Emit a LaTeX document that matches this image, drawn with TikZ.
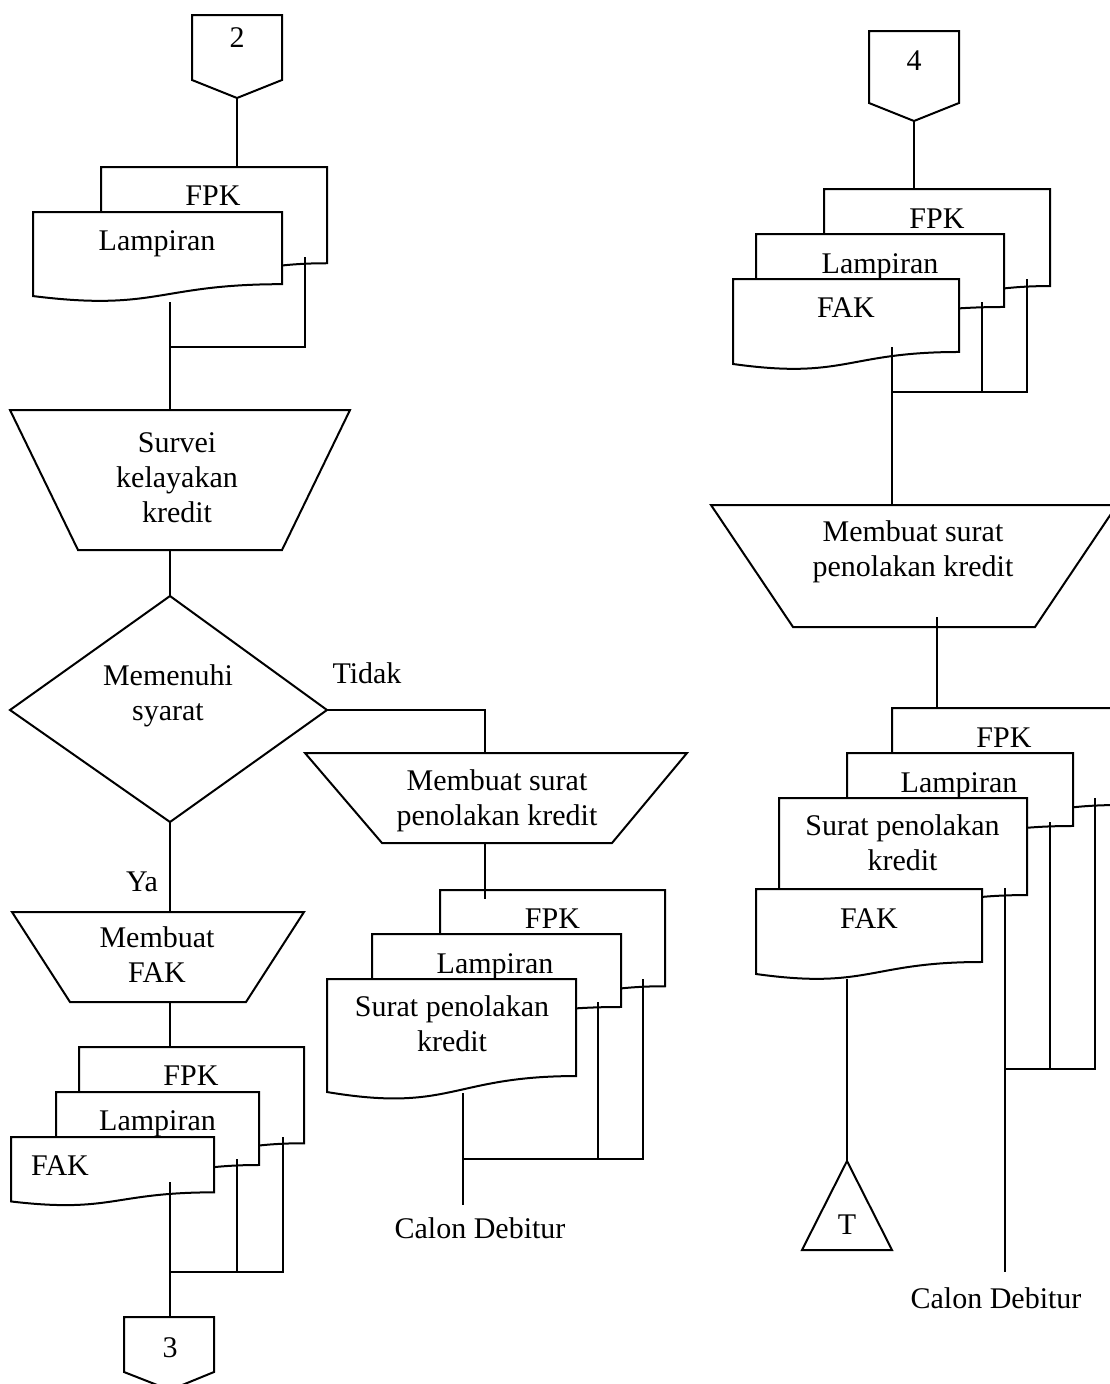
\documentclass[tikz,border=0pt]{standalone}
\usepackage{fontspec}
\setmainfont{Liberation Serif}

% document symbol with a wavy bottom edge: x0, y0, width, height
\newcommand\flowdoc[4]{%
  \draw[shp] (#1,#2) -- ({#1+#3},#2) -- ({#1+#3},{#2+0.802*#4})
    .. controls ({#1+0.5*#3},{#2+0.802*#4}) and ({#1+0.5*#3},{#2+1.107*#4})
    .. (#1,{#2+0.934*#4}) -- cycle;}

\begin{document}
\begin{tikzpicture}[x=1pt,y=-1pt,
  shp/.style={draw, line width=2pt, fill=white, line join=miter},
  wire/.style={draw, line width=2pt},
  txt/.style={font=\fontsize{30}{35}\selectfont, inner sep=0pt, align=center,
              execute at begin node=\strut, execute at end node=\strut},
]
\useasboundingbox (0,0) rectangle (1110,1384);
\fill[white] (0,0) rectangle (1110,1384);
\clip (0,0) rectangle (1110,1384);

% ---------- left column ----------
\draw[shp] (192,15) -- (282,15) -- (282,80) -- (237,98) -- (192,80) -- cycle;
\flowdoc{101}{167}{226}{120}
\flowdoc{33}{212}{249}{90}
\draw[shp] (10,410) -- (350,410) -- (282,550) -- (78,550) -- cycle;
\draw[shp] (170,596) -- (327,710) -- (170,822) -- (10,710) -- cycle;
\draw[shp] (12,912) -- (304,912) -- (246,1002) -- (70,1002) -- cycle;
\flowdoc{79}{1047}{225}{120}
\flowdoc{56}{1092}{203}{91}
\flowdoc{11}{1137}{203}{69}
\draw[shp] (124,1317) -- (214,1317) -- (214,1372) -- (170,1390) -- (124,1372) -- cycle;

% ---------- middle column ----------
\draw[shp] (305,753) -- (687,753) -- (612,843) -- (382,843) -- cycle;
\flowdoc{440}{890}{225}{120}
\flowdoc{372}{934}{249}{91}
\flowdoc{327}{979}{249}{121}

% ---------- right column ----------
\draw[shp] (869,31) -- (959,31) -- (959,103) -- (914,121) -- (869,103) -- cycle;
\flowdoc{824}{189}{226}{121}
\flowdoc{756}{234}{248}{91}
\flowdoc{733}{279}{226}{91}
\draw[shp] (711,505) -- (1117,505) -- (1035,627) -- (793,627) -- cycle;
\flowdoc{892}{708}{226}{121}
\flowdoc{847}{753}{226}{91}
\flowdoc{779}{798}{248}{121}
\flowdoc{756}{889}{226}{91}
\draw[shp] (847,1161) -- (892,1250) -- (802,1250) -- cycle;

% ---------- connection points ----------
\coordinate (off2) at (237,98);   \coordinate (d1top) at (237,167);
\coordinate (d1out) at (170,302); \coordinate (sv-in) at (170,410);
\coordinate (d1back) at (305,257); \coordinate (j1) at (305,347); \coordinate (j1m) at (170,347);
\coordinate (sv-out) at (170,550); \coordinate (dm-top) at (170,596);
\coordinate (dm-bot) at (170,822); \coordinate (bf-in) at (170,912);
\coordinate (dm-right) at (327,710); \coordinate (tk-corner) at (485,710); \coordinate (tm-in) at (485,753);
\coordinate (bf-out) at (170,1002); \coordinate (d2top) at (170,1047);
\coordinate (d2out) at (170,1182); \coordinate (off3) at (170,1317);
\coordinate (d2mid) at (237,1159); \coordinate (d2midj) at (237,1272);
\coordinate (d2back) at (283,1137); \coordinate (d2backj) at (283,1272); \coordinate (j2m) at (170,1272);
\coordinate (tm-out) at (485,843); \coordinate (d3top) at (485,899);
\coordinate (d3out) at (463,1093); \coordinate (d3end) at (463,1205);
\coordinate (d3mid) at (598,1002); \coordinate (d3midj) at (598,1159);
\coordinate (d3back) at (643,979); \coordinate (d3backj) at (643,1159); \coordinate (j3m) at (463,1159);
\coordinate (off4) at (914,121); \coordinate (d4top) at (914,189);
\coordinate (d4out) at (892,347); \coordinate (tr-in) at (892,505);
\coordinate (d4mid) at (982,302); \coordinate (d4midj) at (982,392);
\coordinate (d4back) at (1027,279); \coordinate (d4backj) at (1027,392); \coordinate (j4m) at (892,392);
\coordinate (tr-out) at (937,617); \coordinate (d5top) at (937,708);
\coordinate (d5out) at (847,979); \coordinate (tee-top) at (847,1161);
\coordinate (d5a) at (1005,888); \coordinate (d5end) at (1005,1272); \coordinate (j5m) at (1005,1069);
\coordinate (d5b) at (1050,822); \coordinate (d5bj) at (1050,1069);
\coordinate (d5c) at (1095,798); \coordinate (d5cj) at (1095,1069);

% ---------- connectors ----------
\draw[wire] (off2) -- (d1top);
\draw[wire] (d1out) -- (sv-in);
\draw[wire] (d1back) -- (j1) -- (j1m);
\draw[wire] (sv-out) -- (dm-top);
\draw[wire] (dm-bot) -- (bf-in);
\draw[wire] (dm-right) -- (tk-corner) -- (tm-in);
\draw[wire] (bf-out) -- (d2top);
\draw[wire] (d2out) -- (off3);
\draw[wire] (d2mid) -- (d2midj);
\draw[wire] (d2back) -- (d2backj) -- (j2m);
\draw[wire] (tm-out) -- (d3top);
\draw[wire] (d3out) -- (d3end);
\draw[wire] (d3mid) -- (d3midj);
\draw[wire] (d3back) -- (d3backj) -- (j3m);
\draw[wire] (off4) -- (d4top);
\draw[wire] (d4out) -- (tr-in);
\draw[wire] (d4mid) -- (d4midj);
\draw[wire] (d4back) -- (d4backj) -- (j4m);
\draw[wire] (tr-out) -- (d5top);
\draw[wire] (d5out) -- (tee-top);
\draw[wire] (d5a) -- (d5end);
\draw[wire] (d5b) -- (d5bj);
\draw[wire] (d5c) -- (d5cj) -- (j5m);

% ---------- labels ----------
\node[txt, anchor=base] (n2) at (237,47) {2};
\node[txt, anchor=base] (lfpk) at (213,205) {FPK};
\node[txt, anchor=base] (llamp) at (157,250) {Lampiran};
\node[txt] (survei) at (177,483) {Survei\\kelayakan\\kredit};
\node[txt] (syarat) at (168,697.5) {Memenuhi\\syarat};
\node[txt, anchor=base] (tidak) at (367,683) {Tidak};
\node[txt, anchor=base] (ya) at (142,891) {Ya};
\node[txt] (buatfak) at (157,960) {Membuat\\FAK};
\node[txt, anchor=base] (bfpk) at (191,1085) {FPK};
\node[txt, anchor=base] (blamp) at (157.5,1130) {Lampiran};
\node[txt, anchor=base] (bfak) at (60,1175) {FAK};
\node[txt, anchor=base] (n3) at (170,1357) {3};
\node[txt] (tolakm) at (497,802.5) {Membuat surat\\penolakan kredit};
\node[txt, anchor=base] (mfpk) at (552.5,928) {FPK};
\node[txt, anchor=base] (mlamp) at (495,973) {Lampiran};
\node[txt] (msurat) at (452,1028.5) {Surat penolakan\\kredit};
\node[txt, anchor=base] (mcalon) at (480,1238) {Calon Debitur};
\node[txt, anchor=base] (n4) at (914,70) {4};
\node[txt, anchor=base] (rfpk) at (937,228) {FPK};
\node[txt, anchor=base] (rlamp) at (880,273) {Lampiran};
\node[txt, anchor=base] (rfak) at (846,317) {FAK};
\node[txt] (tolakr) at (913,553.5) {Membuat surat\\penolakan kredit};
\node[txt, anchor=base] (sfpk) at (1004,747) {FPK};
\node[txt, anchor=base] (slamp) at (959,792) {Lampiran};
\node[txt] (ssurat) at (902.5,847.5) {Surat penolakan\\kredit};
\node[txt, anchor=base] (sfak) at (869,928) {FAK};
\node[txt, anchor=base] (tee) at (847,1234) {T};
\node[txt, anchor=base] (rcalon) at (996,1308) {Calon Debitur};
\end{tikzpicture}
\end{document}
